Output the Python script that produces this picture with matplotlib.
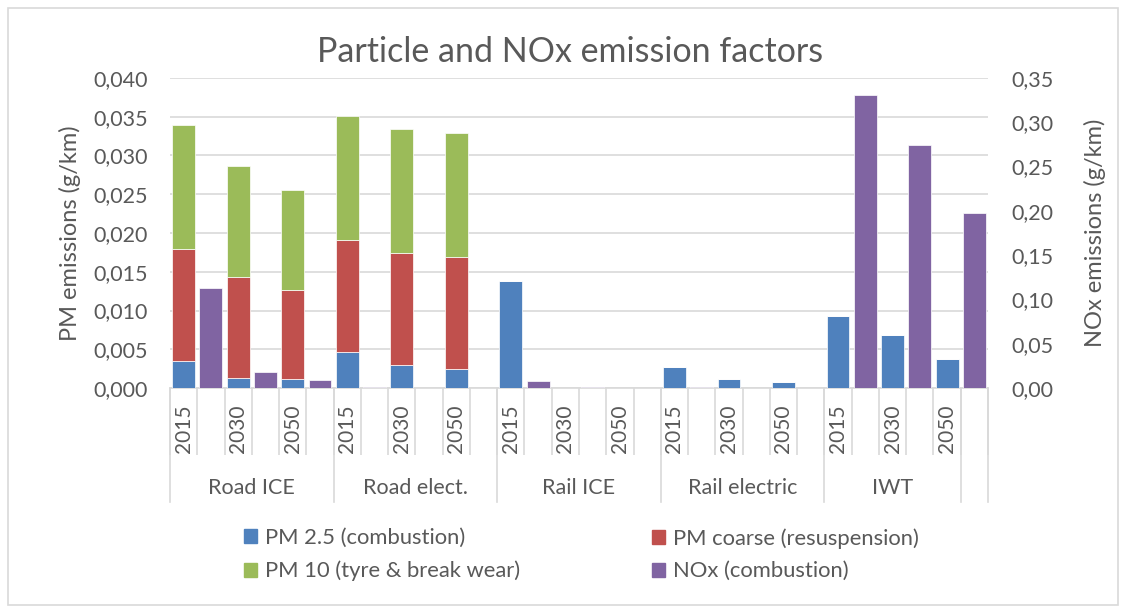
import matplotlib
matplotlib.use("Agg")
import matplotlib.pyplot as plt
from matplotlib.patches import Patch, Rectangle
from matplotlib.ticker import FuncFormatter, MultipleLocator
import numpy as np

plt.rcParams["font.family"] = ["Lato", "DejaVu Sans"]

# data
groups = ["Road ICE", "Road elect.", "Rail ICE", "Rail electric", "IWT"]
years = ["2015", "2030", "2050"]
pm25 = [0.0035, 0.0013, 0.0012, 0.0047, 0.0030, 0.0025, 0.0138, 0.0, 0.0,
        0.0027, 0.0011, 0.0008, 0.0093, 0.0069, 0.0037]
pm_coarse = [0.0144, 0.0130, 0.0115, 0.0144, 0.0144, 0.0144, 0.0, 0.0, 0.0,
             0.0, 0.0, 0.0, 0.0, 0.0, 0.0]
pm10 = [0.0160, 0.0144, 0.0128, 0.0160, 0.0160, 0.0160, 0.0, 0.0, 0.0,
        0.0, 0.0, 0.0, 0.0, 0.0, 0.0]
nox = [0.113, 0.0184, 0.0090, 0.0015, 0.0, 0.0, 0.0079, 0.0008, 0.0,
       0.0015, 0.0004, 0.0, 0.331, 0.274, 0.198]

C_BLUE, C_RED, C_GREEN, C_PURPLE = "#4F81BD", "#C0504D", "#9BBB59", "#8064A2"
TXT = "#595959"
GRID = "#D9D9D9"

W, H = 1126, 613
fig = plt.figure(figsize=(W / 100, H / 100), dpi=100)
ax = fig.add_axes([170 / W, 1 - 388 / H, (988 - 170) / W, (388 - 78) / H])
ax2 = ax.twinx()

n = len(pm25)
x_pm = np.arange(n) * 2
x_nox = x_pm + 1
bw = 0.84
pm25 = np.array(pm25)
pm_coarse = np.array(pm_coarse)
pm10 = np.array(pm10)

kw = dict(width=bw, edgecolor="white", linewidth=0.5, zorder=3)
ax.bar(x_pm, pm25, color=C_BLUE, **kw)
ax.bar(x_pm, pm_coarse, bottom=pm25, color=C_RED, **kw)
ax.bar(x_pm, pm10, bottom=pm25 + pm_coarse, color=C_GREEN, **kw)
ax2.bar(x_nox, nox, color=C_PURPLE, **kw)

ax.set_xlim(-0.5, 2 * n - 0.5)
ax.set_ylim(0, 0.040)
ax2.set_ylim(0, 0.35)
ax.yaxis.set_major_locator(MultipleLocator(0.005))
ax2.yaxis.set_major_locator(MultipleLocator(0.05))
ax.yaxis.set_major_formatter(FuncFormatter(lambda v, p: f"{v:.3f}".replace(".", ",")))
ax2.yaxis.set_major_formatter(FuncFormatter(lambda v, p: f"{v:.2f}".replace(".", ",")))
ax.grid(axis="y", color=GRID, linewidth=1.2, zorder=0)
ax.set_axisbelow(True)

for a in (ax, ax2):
    for s in a.spines.values():
        s.set_visible(False)
ax.spines["bottom"].set_visible(True)
ax.spines["bottom"].set_color(GRID)
ax.spines["bottom"].set_linewidth(1.2)

ax.tick_params(axis="y", length=0, pad=16, labelsize=15.5, labelcolor=TXT)
ax2.tick_params(axis="y", length=0, pad=17, labelsize=15.5, labelcolor=TXT)

# category separators drawn as ticks on the x axis
ax.set_xticks(np.arange(2 * n + 1) - 0.5)
ax.set_xticklabels([])
ax.tick_params(axis="x", length=48, width=1.2, color=GRID, direction="out")

xt = ax.get_xaxis_transform()
bounds = [-0.5, 5.5, 11.5, 17.5, 23.5, 28.5, 29.5]
for b in bounds:
    ax.plot([b, b], [0, -114 / 310], transform=xt, color=GRID, lw=1.2, clip_on=False)

for i, xp in enumerate(x_pm):
    ax.annotate(years[i % 3], xy=(xp, 0), xycoords=xt, xytext=(0, -12),
                textcoords="offset points", rotation=90, ha="center", va="top",
                fontsize=15, color=TXT)

group_centers = [2.5, 8.5, 14.5, 20.5, 26.0]
for g, gc in zip(groups, group_centers):
    ax.annotate(g, xy=(gc, 0), xycoords=xt, xytext=(0, -72),
                textcoords="offset points", ha="center", va="center",
                fontsize=15.5, color=TXT)

ax.set_ylabel("PM emissions (g/km)", fontsize=17, color=TXT)
ax2.set_ylabel("NOx emissions (g/km)", fontsize=17, color=TXT, rotation=90)
ax.yaxis.label.set_verticalalignment("center")
ax2.yaxis.label.set_verticalalignment("center")
ax.yaxis.set_label_coords(70 / W, 1 - 233 / H, transform=fig.transFigure)
ax2.yaxis.set_label_coords(1095 / W, 1 - 233 / H, transform=fig.transFigure)

fig.text(570 / W, 1 - 52 / H, "Particle and NOx emission factors",
         ha="center", va="center", fontsize=24.5, color=TXT)

leg_kw = dict(frameon=False, fontsize=15.8, labelcolor=TXT, handlelength=0.6,
              handleheight=0.6, handletextpad=0.35, labelspacing=0.58,
              borderpad=0, borderaxespad=0, loc="upper left")
fig.legend(handles=[Patch(color=C_BLUE, label="PM 2.5 (combustion)"),
                    Patch(color=C_GREEN, label="PM 10 (tyre & break wear)")],
           bbox_to_anchor=(244 / W, 1 - 528 / H), **leg_kw)
fig.legend(handles=[Patch(color=C_RED, label="PM coarse (resuspension)"),
                    Patch(color=C_PURPLE, label="NOx (combustion)")],
           bbox_to_anchor=(652 / W, 1 - 528 / H), **leg_kw)

fig.patches.append(Rectangle((8 / W, 8 / H), (1118 - 8) / W, (605 - 8) / H,
                             transform=fig.transFigure, fill=False,
                             edgecolor=GRID, linewidth=1.2))

fig.savefig("out.png", dpi=100)
